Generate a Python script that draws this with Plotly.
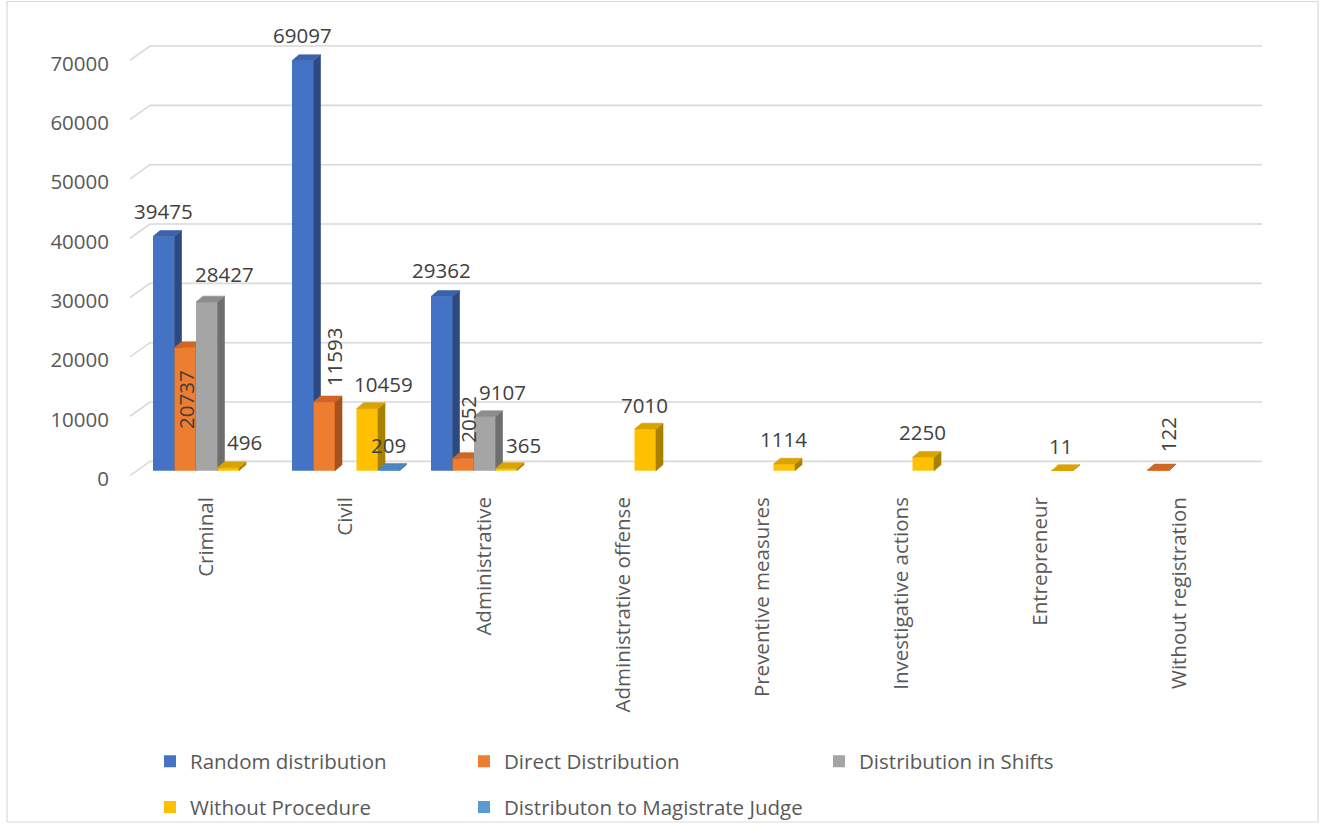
import plotly.graph_objects as go

# ---- data -------------------------------------------------------------
categories = [
    "Criminal", "Civil", "Administrative", "Administrative offense",
    "Preventive measures", "Investigative actions", "Entrepreneur",
    "Without registration",
]
series_names = [
    "Random distribution", "Direct Distribution", "Distribution in Shifts",
    "Without Procedure", "Distributon to Magistrate Judge",
]
random_distribution = [39475, 69097, 29362, None, None, None, None, None]
direct_distribution = [20737, 11593, 2052, None, None, None, None, 122]
distribution_in_shifts = [28427, None, 9107, None, None, None, None, None]
without_procedure = [496, 10459, 365, 7010, 1114, 2250, 11, None]
magistrate_judge = [None, 209, None, None, None, None, None, None]
y_ticks = [0, 10000, 20000, 30000, 40000, 50000, 60000, 70000]

series_values = [random_distribution, direct_distribution, distribution_in_shifts,
                 without_procedure, magistrate_judge]

# ---- styling ----------------------------------------------------------
FONT = "Open Sans"
FS = 20.5
front_colors = ["#4472C4", "#ED7D31", "#A5A5A5", "#FFC000", "#5B9BD5"]
top_colors = ["#3B62AC", "#CF6625", "#8C8C8C", "#D9A300", "#4C86BC"]
side_colors = ["#2C4A82", "#A5521C", "#6E6E6E", "#A98000", "#3A6B99"]
legend_ids = ["legend", "legend2", "legend3", "legend", "legend2"]

# label offsets in pixels (dx, dy) and rotation per series/category
label_dx = [
    [0, 0, 0, 0, 0, 0, 0, 0],
    [0, 10, 4, 0, 0, 0, 0, 10],
    [18, 0, 18, 0, 0, 0, 0, 0],
    [16, 16, 17, -1, -1, -1, -2, 0],
    [0, 0, 0, 0, 0, 0, 0, 0],
]
label_dy = [
    [25, 26, 26, 0, 0, 0, 0, 0],
    [-52, 45, 39, 0, 0, 0, 0, 35],
    [28, 0, 25, 0, 0, 0, 0, 0],
    [26, 25, 24, 24, 25, 25, 25, 0],
    [0, 24, 0, 0, 0, 0, 0, 0],
]
label_angle = [0, -90, 0, 0, 0]

# ---- geometry (pixels -> axis units) ----------------------------------
PLOT_L, PLOT_R, PLOT_T, PLOT_B = 130, 1262, 30, 490
FIG_W, FIG_H = 1322, 839
X_MIN = -0.5522
PX_PER_CAT = 139.0
X_MAX = X_MIN + (PLOT_R - PLOT_L) / PX_PER_CAT
Y_MIN, Y_MAX = -1904, 74270
PX_PER_Y = (PLOT_B - PLOT_T) / (Y_MAX - Y_MIN)

BAR_W = 21.5 / PX_PER_CAT
DEPTH_X = 7 / PX_PER_CAT
DEPTH_Y = 6 / PX_PER_Y
WALL_X = 20 / PX_PER_CAT
WALL_Y = 9.5 / PX_PER_Y
LABEL_PLANE_Y = -5 / PX_PER_Y


def px_x(px):
    return (px - PLOT_L) / (PLOT_R - PLOT_L)


def px_y(py):
    return (PLOT_B - py) / (PLOT_B - PLOT_T)


fig = go.Figure()

for s, (name, vals) in enumerate(zip(series_names, series_values)):
    xa = "x" if s == 0 else f"x{s + 1}"
    centers = [i + (s - 2) * BAR_W for i in range(len(categories))]
    fig.add_trace(go.Bar(
        x=centers, y=vals, width=BAR_W, offset=-BAR_W / 2,
        name=name, marker=dict(color=front_colors[s], line=dict(width=0)),
        xaxis=xa, yaxis="y", legend=legend_ids[s], legendgroup=name,
        hoverinfo="y+name",
    ))
    # top and side faces of each bar
    sx, sy, tx, ty = [], [], [], []
    for c, v in zip(centers, vals):
        if v is None:
            continue
        xl, xr = c - BAR_W / 2, c + BAR_W / 2
        sx += [xr, xr + DEPTH_X, xr + DEPTH_X, xr, xr, None]
        sy += [0, DEPTH_Y, v + DEPTH_Y, v, 0, None]
        tx += [xl, xl + DEPTH_X, xr + DEPTH_X, xr, xl, None]
        ty += [v, v + DEPTH_Y, v + DEPTH_Y, v, v, None]
    fig.add_trace(go.Scatter(
        x=sx, y=sy, fill="toself", fillcolor=side_colors[s], mode="lines",
        line=dict(color=side_colors[s], width=0.6), xaxis=xa, yaxis="y",
        showlegend=False, hoverinfo="skip",
    ))
    fig.add_trace(go.Scatter(
        x=tx, y=ty, fill="toself", fillcolor=top_colors[s], mode="lines",
        line=dict(color=top_colors[s], width=0.6), xaxis=xa, yaxis="y",
        showlegend=False, hoverinfo="skip",
    ))
    # value labels
    for i, (c, v) in enumerate(zip(centers, vals)):
        if v is None:
            continue
        fig.add_annotation(
            x=c, y=v, xref="x", yref="y", text=str(v), showarrow=False,
            xanchor="center", yanchor="middle", textangle=label_angle[s],
            xshift=label_dx[s][i], yshift=label_dy[s][i],
            font=dict(family=FONT, size=FS, color="#404040"),
        )

# back-wall gridlines with the short perspective edge on the left
for t in y_ticks:
    fig.add_shape(
        type="path", xref="x", yref="y", layer="below",
        path=(f"M {X_MIN},{t + LABEL_PLANE_Y} L {X_MIN + WALL_X},{t + WALL_Y} "
              f"L {X_MAX},{t + WALL_Y}"),
        line=dict(color="#D9D9D9", width=1.6),
    )

# chart border
fig.add_shape(
    type="rect", xref="paper", yref="paper",
    x0=px_x(7), x1=px_x(1318), y0=px_y(836), y1=px_y(1),
    line=dict(color="#D9D9D9", width=1.2), layer="below",
)

axis_common = dict(range=[X_MIN, X_MAX], fixedrange=True)
legend_style = dict(xanchor="left", yanchor="top", orientation="v",
                    tracegroupgap=16, bgcolor="rgba(0,0,0,0)",
                    font=dict(family=FONT, size=FS, color="#595959"))
fig.update_layout(
    width=FIG_W, height=FIG_H, autosize=False,
    margin=dict(l=PLOT_L, r=FIG_W - PLOT_R, t=PLOT_T, b=FIG_H - PLOT_B),
    paper_bgcolor="white", plot_bgcolor="white",
    font=dict(family=FONT, size=FS, color="#595959"),
    barmode="overlay",
    xaxis=dict(
        **axis_common, tickmode="array", tickvals=list(range(len(categories))),
        ticktext=categories, tickangle=-90, showgrid=False, zeroline=False,
        showline=False, ticks="", ticklabelstandoff=10,
        tickfont=dict(family=FONT, size=FS, color="#595959"),
    ),
    xaxis2=dict(**axis_common, overlaying="x", visible=False),
    xaxis3=dict(**axis_common, overlaying="x", visible=False),
    xaxis4=dict(**axis_common, overlaying="x", visible=False),
    xaxis5=dict(**axis_common, overlaying="x", visible=False),
    yaxis=dict(
        range=[Y_MIN, Y_MAX], tickmode="array", tickvals=y_ticks,
        tickformat="d", showgrid=False, zeroline=False, showline=False,
        ticks="", ticklabelshift=8, ticklabelstandoff=20, fixedrange=True,
        tickfont=dict(family=FONT, size=FS, color="#595959"),
    ),
    legend=dict(x=px_x(150), y=px_y(754), **legend_style),
    legend2=dict(x=px_x(464), y=px_y(754), **legend_style),
    legend3=dict(x=px_x(819), y=px_y(754), **legend_style),
    showlegend=True,
)

fig.write_html("out.html")
